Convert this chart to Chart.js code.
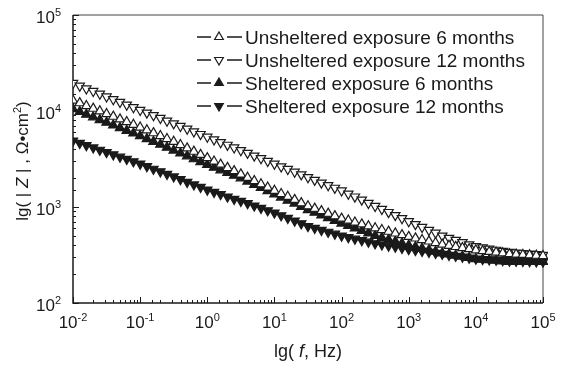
<!DOCTYPE html>
<html>
<head>
<meta charset="utf-8">
<script src="https://cdn.jsdelivr.net/npm/chart.js@4.4.0/dist/chart.umd.min.js"></script>
<style>
  html, body { margin: 0; padding: 0; background: #fff; }
  #wrap { width: 567px; height: 367px; }
</style>
</head>
<body>
<div id="wrap"><canvas id="chart" width="567" height="367"></canvas></div>
<script>
// frequency, Hz (10 points per decade)
const freq = [
  0.01, 0.0126, 0.0158, 0.02, 0.0251, 0.0316, 0.0398, 0.0501, 0.0631, 0.0794,
  0.1, 0.126, 0.158, 0.2, 0.251, 0.316, 0.398, 0.501, 0.631, 0.794,
  1, 1.26, 1.58, 2, 2.51, 3.16, 3.98, 5.01, 6.31, 7.94,
  10, 12.6, 15.8, 20, 25.1, 31.6, 39.8, 50.1, 63.1, 79.4,
  100, 126, 158, 200, 251, 316, 398, 501, 631, 794,
  1000, 1260, 1580, 2000, 2510, 3160, 3980, 5010, 6310, 7940,
  10000, 12600, 15800, 20000, 25100, 31600, 39800, 50100, 63100, 79400,
  100000
];

// |Z|, ohm.cm2
const unsheltered6 = [
  12900, 12100, 11300, 10600, 9950, 9330, 8750, 8200, 7690, 7210,
  6760, 6310, 5890, 5500, 5130, 4790, 4430, 4090, 3780, 3500,
  3240, 2990, 2770, 2560, 2370, 2190, 2020, 1870, 1730, 1600,
  1480, 1370, 1280, 1190, 1100, 1020, 964, 908, 855, 805,
  759, 724, 692, 661, 631, 603, 578, 555, 532, 511,
  490, 472, 455, 439, 423, 407, 396, 385, 375, 365,
  355, 348, 342, 336, 330, 324, 321, 318, 315, 312,
  309
];
const unsheltered12 = [
  19500, 18300, 17100, 16100, 15100, 14100, 13200, 12400, 11600, 10900,
  10200, 9590, 9000, 8430, 7910, 7410, 6950, 6520, 6110, 5730,
  5370, 5040, 4720, 4430, 4150, 3890, 3650, 3420, 3210, 3010,
  2820, 2640, 2480, 2320, 2180, 2040, 1910, 1790, 1680, 1580,
  1480, 1370, 1280, 1190, 1100, 1020, 951, 883, 820, 762,
  708, 661, 617, 575, 537, 501, 475, 452, 429, 407,
  389, 378, 367, 357, 348, 339, 334, 330, 325, 321,
  316
];
const sheltered6 = [
  10500, 9820, 9200, 8630, 8090, 7590, 7110, 6670, 6250, 5860,
  5500, 5130, 4790, 4470, 4170, 3890, 3630, 3390, 3160, 2950,
  2750, 2580, 2420, 2270, 2130, 2000, 1850, 1710, 1590, 1470,
  1360, 1260, 1170, 1090, 1010, 933, 875, 820, 769, 721,
  676, 637, 600, 565, 532, 501, 479, 457, 437, 417,
  398, 384, 370, 356, 344, 331, 322, 313, 305, 296,
  288, 284, 280, 277, 273, 269, 269, 269, 269, 269,
  269
];
const sheltered12 = [
  4900, 4630, 4390, 4150, 3930, 3720, 3520, 3330, 3150, 2980,
  2820, 2650, 2490, 2340, 2200, 2070, 1940, 1820, 1710, 1610,
  1510, 1430, 1360, 1280, 1210, 1150, 1090, 1030, 973, 920,
  871, 817, 766, 718, 673, 631, 603, 575, 550, 525,
  501, 483, 466, 449, 433, 417, 406, 394, 384, 373,
  363, 355, 347, 339, 331, 324, 316, 309, 302, 295,
  288, 286, 283, 281, 278, 275, 274, 273, 272, 270,
  269
];

const seriesNames = [
  "Unsheltered exposure 6 months",
  "Unsheltered exposure 12 months",
  "Sheltered exposure 6 months",
  "Sheltered exposure 12 months"
];

const FONT = "'Liberation Sans', Arial, sans-serif";
const INK = "#1a1a1a";

function toPoints(vals) {
  return freq.map((f, i) => ({ x: f, y: vals[i] }));
}

function series(label, vals, filled, down) {
  return {
    label: label,
    data: toPoints(vals),
    borderColor: INK,
    borderWidth: 1,
    pointStyle: "triangle",
    rotation: down ? 180 : 0,
    pointRadius: 5.4,
    pointBorderWidth: 1.2,
    pointBorderColor: INK,
    pointBackgroundColor: filled ? INK : "#fff",
    backgroundColor: filled ? INK : "#fff",
    fill: false,
    tension: 0,
    clip: { left: 0, top: 0, right: 5, bottom: 0 }
  };
}

function isDecade(v) {
  const l = Math.log10(v);
  return Math.abs(l - Math.round(l)) < 1e-6;
}

function drawPow(ctx, exp, x, y, align) {
  const big = "17px " + FONT, small = "11px " + FONT;
  ctx.font = big;
  const bw = ctx.measureText("10").width;
  ctx.font = small;
  const sw = ctx.measureText(String(exp)).width;
  const x0 = align === "center" ? x - (bw + sw) / 2 : x - bw - sw;
  ctx.textAlign = "left";
  ctx.textBaseline = "alphabetic";
  ctx.font = big;
  ctx.fillText("10", x0, y);
  ctx.font = small;
  ctx.fillText(String(exp), x0 + bw, y - 7);
}

function triangle(ctx, x, y, r, down, filled) {
  let rad = down ? Math.PI : 0;
  ctx.beginPath();
  for (let k = 0; k < 3; k++) {
    const px = x + Math.sin(rad) * r, py = y - Math.cos(rad) * r;
    if (k === 0) ctx.moveTo(px, py); else ctx.lineTo(px, py);
    rad += 2 * Math.PI / 3;
  }
  ctx.closePath();
  ctx.fillStyle = filled ? INK : "#fff";
  ctx.fill();
  ctx.strokeStyle = INK;
  ctx.lineWidth = 1.2;
  ctx.stroke();
}

const framePlugin = {
  id: "frame",
  beforeDatasetsDraw(chart) {
    const ctx = chart.ctx, a = chart.chartArea;
    const xs = chart.scales.x, ys = chart.scales.y;
    ctx.save();
    ctx.strokeStyle = "#444";
    ctx.lineWidth = 1;
    ctx.beginPath();
    ctx.moveTo(a.left, a.top); ctx.lineTo(a.right, a.top);
    ctx.lineTo(a.right, a.bottom);
    ctx.stroke();
    ctx.strokeStyle = INK;
    ctx.lineWidth = 1.5;
    ctx.beginPath();
    ctx.moveTo(a.left, a.top); ctx.lineTo(a.left, a.bottom); ctx.lineTo(a.right, a.bottom);
    ctx.stroke();
    // inward ticks
    ctx.lineWidth = 1;
    ctx.beginPath();
    xs.ticks.forEach(t => {
      const px = Math.round(xs.getPixelForValue(t.value)) + 0.5;
      const len = isDecade(t.value) ? 6 : 3;
      ctx.moveTo(px, a.bottom); ctx.lineTo(px, a.bottom - len);
    });
    ys.ticks.forEach(t => {
      const py = Math.round(ys.getPixelForValue(t.value)) + 0.5;
      const len = isDecade(t.value) ? 6 : 3;
      ctx.moveTo(a.left, py); ctx.lineTo(a.left + len, py);
    });
    ctx.stroke();
    ctx.restore();
  },
  afterDraw(chart) {
    const ctx = chart.ctx, a = chart.chartArea;
    const xs = chart.scales.x, ys = chart.scales.y;
    ctx.save();
    ctx.fillStyle = INK;
    xs.ticks.forEach(t => {
      if (!isDecade(t.value)) return;
      drawPow(ctx, Math.round(Math.log10(t.value)), xs.getPixelForValue(t.value), a.bottom + 25, "center");
    });
    ys.ticks.forEach(t => {
      if (!isDecade(t.value)) return;
      drawPow(ctx, Math.round(Math.log10(t.value)), 61, ys.getPixelForValue(t.value) + 8, "right");
    });

    // x title: lg( f, Hz)
    const tf = "18px " + FONT, ti = "italic 18px " + FONT;
    const xParts = [["lg( ", tf], ["f", ti], [", Hz)", tf]];
    let w = 0;
    xParts.forEach(p => { ctx.font = p[1]; w += ctx.measureText(p[0]).width; });
    let cx = (a.left + a.right) / 2 - w / 2;
    ctx.textAlign = "left";
    ctx.textBaseline = "alphabetic";
    xParts.forEach(p => { ctx.font = p[1]; ctx.fillText(p[0], cx, 357); cx += ctx.measureText(p[0]).width; });

    // y title: lg( | Z | , Ω•cm²)
    const yf = "17px " + FONT, yi = "italic 17px " + FONT, ys2 = "11px " + FONT;
    const yParts = [["lg( | ", yf, 0], ["Z", yi, 0], [" | , \u03A9\u2022cm", yf, 0], ["2", ys2, -7], [")", yf, 0]];
    w = 0;
    yParts.forEach(p => { ctx.font = p[1]; w += ctx.measureText(p[0]).width; });
    ctx.translate(28, (a.top + a.bottom) / 2 + 2);
    ctx.rotate(-Math.PI / 2);
    cx = -w / 2;
    yParts.forEach(p => { ctx.font = p[1]; ctx.fillText(p[0], cx, p[2]); cx += ctx.measureText(p[0]).width; });
    ctx.setTransform(1, 0, 0, 1, 0, 0);

    // legend: dash, marker, dash, label
    const lx = 197, ly = 37, step = 23;
    chart.data.datasets.forEach((ds, i) => {
      const y = ly + i * step;
      ctx.strokeStyle = INK;
      ctx.lineWidth = 1.5;
      ctx.beginPath();
      ctx.moveTo(lx, y); ctx.lineTo(lx + 14, y);
      ctx.moveTo(lx + 30, y); ctx.lineTo(lx + 45, y);
      ctx.stroke();
      triangle(ctx, lx + 22, y, 5, ds.rotation === 180, ds.pointBackgroundColor === INK);
      ctx.fillStyle = INK;
      ctx.font = "19px " + FONT;
      ctx.textAlign = "left";
      ctx.textBaseline = "alphabetic";
      ctx.fillText(ds.label, lx + 48, y + 7);
    });
    ctx.restore();
  }
};

new Chart(document.getElementById("chart"), {
  type: "line",
  data: {
    datasets: [
      series(seriesNames[0], unsheltered6, false, false),
      series(seriesNames[1], unsheltered12, false, true),
      series(seriesNames[2], sheltered6, true, false),
      series(seriesNames[3], sheltered12, true, true)
    ]
  },
  options: {
    responsive: false,
    animation: false,
    layout: { padding: { top: 15, right: 24, left: 0, bottom: 0 } },
    plugins: { legend: { display: false }, tooltip: { enabled: false } },
    scales: {
      x: {
        type: "logarithmic",
        min: 0.01,
        max: 100000,
        grid: { display: false },
        border: { display: false },
        ticks: { display: false },
        afterFit(scale) { scale.height = 64; }
      },
      y: {
        type: "logarithmic",
        min: 100,
        max: 100000,
        grid: { display: false },
        border: { display: false },
        ticks: { display: false },
        afterFit(scale) { scale.width = 73; }
      }
    }
  },
  plugins: [framePlugin]
});
</script>
</body>
</html>
